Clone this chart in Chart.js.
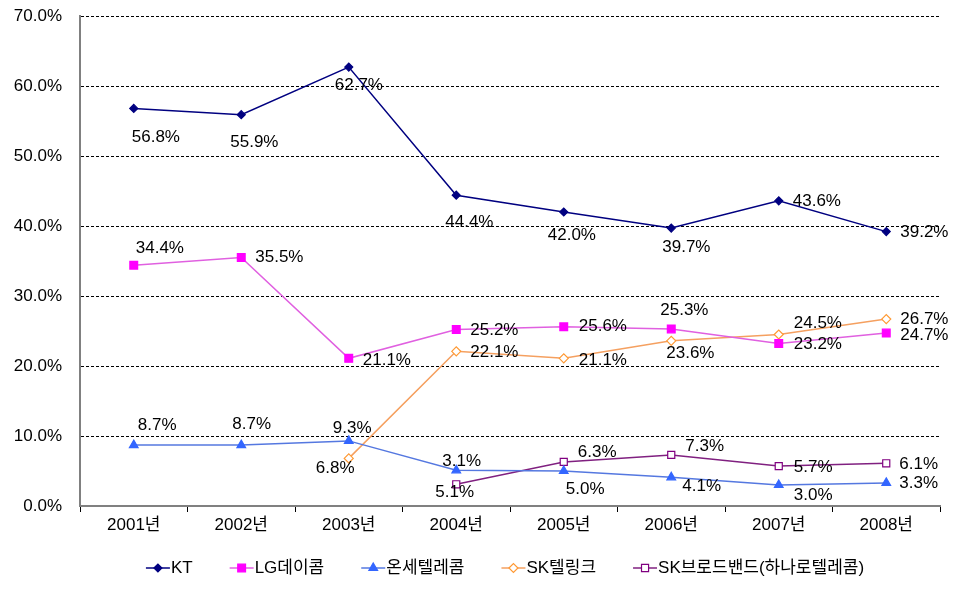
<!DOCTYPE html>
<html>
<head>
<meta charset="utf-8">
<script src="https://cdn.jsdelivr.net/npm/chart.js@4"></script>
<style>
  body { margin: 0; background: #fff; }
  #wrap { width: 969px; height: 592px; }
</style>
</head>
<body>
<div id="wrap"><canvas id="share-chart"></canvas></div>
<script>
// Data
const years = ['2001년', '2002년', '2003년', '2004년', '2005년', '2006년', '2007년', '2008년'];
const seriesNames = ['KT', 'LG데이콤', '온세텔레콤', 'SK텔링크', 'SK브로드밴드(하나로텔레콤)'];
const ktShare = [56.8, 55.9, 62.7, 44.4, 42.0, 39.7, 43.6, 39.2];
const lgShare = [34.4, 35.5, 21.1, 25.2, 25.6, 25.3, 23.2, 24.7];
const onseShare = [8.7, 8.7, 9.3, 5.1, 5.0, 4.1, 3.0, 3.3];
const sktShare = [null, null, 6.8, 22.1, 21.1, 23.6, 24.5, 26.7];
const skbShare = [null, null, null, 3.1, 6.3, 7.3, 5.7, 6.1];
const yMin = 0, yMax = 70, yStep = 10;

// label placement relative to each point: [dx to left edge, dy to text middle]
const labelOffsets = [
  [[-2, 29], [-11, 28], [-14, 18], [-11, 27], [-16, 23], [-9, 19], [14, 1], [14, 1]],
  [[2, -17], [14, 0], [14, 2], [14, 1], [15, 0], [-11, -19], [15, 1], [14, 2]],
  [[4, -20], [-9, -21], [-16, -13], [-21, 22], [2, 18], [11, 9], [15, 10], [13, 0]],
  [null, null, [-33, 10], [14, 1], [15, 2], [-5, 13], [15, -11], [14, 0]],
  [null, null, null, [-14, -23], [14, -10], [14, -9], [15, 1], [13, 1]]
];

const FONT = '"Liberation Sans", "Noto Sans CJK KR", sans-serif';

const styles = [
  { line: '#000080', fill: '#000080', stroke: '#000080', shape: 'rectRot', r: 4 },
  { line: '#e060e0', fill: '#ff00ff', stroke: '#ff00ff', shape: 'rect', r: 5.5 },
  { line: '#5578e0', fill: '#3366ff', stroke: '#3366ff', shape: 'triangle', r: 5 },
  { line: '#f5a060', fill: '#ffffff', stroke: '#ff9933', shape: 'rectRot', r: 4.5 },
  { line: '#802080', fill: '#ffffff', stroke: '#800080', shape: 'rect', r: 5 }
];
const values = [ktShare, lgShare, onseShare, sktShare, skbShare];

const datasets = values.map((vals, i) => ({
  label: seriesNames[i],
  data: vals,
  borderColor: styles[i].line,
  borderWidth: 1.5,
  pointStyle: styles[i].shape,
  pointRadius: styles[i].r,
  pointBackgroundColor: styles[i].fill,
  pointBorderColor: styles[i].stroke,
  pointBorderWidth: 1.2,
  tension: 0,
  spanGaps: false
}));

// value labels
const valueLabels = {
  id: 'valueLabels',
  afterDatasetsDraw(chart) {
    const ctx = chart.ctx;
    ctx.save();
    ctx.font = '17px ' + FONT;
    ctx.fillStyle = '#000';
    ctx.textAlign = 'left';
    ctx.textBaseline = 'middle';
    chart.data.datasets.forEach((ds, i) => {
      const meta = chart.getDatasetMeta(i);
      ds.data.forEach((v, j) => {
        if (v === null) return;
        const off = labelOffsets[i][j] || [12, 0];
        const el = meta.data[j];
        ctx.fillText(v.toFixed(1) + '%', el.x + off[0], el.y + off[1]);
      });
    });
    ctx.restore();
  }
};

function drawMarker(ctx, s, x, y) {
  ctx.beginPath();
  const r = s.r;
  if (s.shape === 'rectRot') {
    ctx.moveTo(x - r, y); ctx.lineTo(x, y - r); ctx.lineTo(x + r, y); ctx.lineTo(x, y + r);
  } else if (s.shape === 'rect') {
    const h = r * Math.SQRT1_2;
    ctx.rect(x - h, y - h, 2 * h, 2 * h);
  } else {
    ctx.moveTo(x, y - r); ctx.lineTo(x + r * 0.87, y + r * 0.5); ctx.lineTo(x - r * 0.87, y + r * 0.5);
  }
  ctx.closePath();
  ctx.fillStyle = s.fill; ctx.fill();
  ctx.strokeStyle = s.stroke; ctx.lineWidth = 1.2; ctx.stroke();
}

// legend row under the axis
const bottomLegend = {
  id: 'bottomLegend',
  afterDraw(chart) {
    const ctx = chart.ctx;
    ctx.save();
    ctx.font = '17px ' + FONT;
    const lineLen = 24, gap = 37, y = 568;
    const widths = seriesNames.map(n => ctx.measureText(n).width);
    const total = widths.reduce((a, w) => a + lineLen + 1 + w, 0) + gap * (seriesNames.length - 1);
    let x = 505 - total / 2;
    seriesNames.forEach((n, i) => {
      const s = styles[i];
      ctx.strokeStyle = s.line; ctx.lineWidth = 1.5;
      ctx.beginPath(); ctx.moveTo(x, y); ctx.lineTo(x + lineLen, y); ctx.stroke();
      drawMarker(ctx, s, x + lineLen / 2, y);
      ctx.fillStyle = '#000';
      ctx.textAlign = 'left'; ctx.textBaseline = 'middle';
      ctx.fillText(n, x + lineLen + 1, y);
      x += lineLen + 1 + widths[i] + gap;
    });
    ctx.restore();
  }
};

const ctx = document.getElementById('share-chart').getContext('2d');
const shareChart = new Chart(ctx, {
  type: 'line',
  data: { labels: years, datasets: datasets },
  plugins: [valueLabels, bottomLegend],
  options: {
    responsive: true,
    maintainAspectRatio: false,
    animation: false,
    layout: { padding: { top: 16, right: 29, left: 0, bottom: 0 } },
    plugins: { legend: { display: false }, tooltip: { enabled: false } },
    scales: {
      x: {
        offset: true,
        grid: { offset: true, drawOnChartArea: false, drawTicks: true, tickLength: 6, tickColor: '#000', tickWidth: 1 },
        border: { color: '#808080', width: 2 },
        ticks: { color: '#000', font: { family: FONT, size: 17 }, padding: 3, maxRotation: 0 },
        afterFit: s => { s.height = 86; s.paddingLeft = 0; s.paddingRight = 0; }
      },
      y: {
        min: yMin, max: yMax,
        ticks: {
          stepSize: yStep, color: '#000', padding: 18,
          font: { family: FONT, size: 17 },
          callback: v => v.toFixed(1) + '%'
        },
        grid: {
          drawTicks: false, tickLength: 0, lineWidth: 1,
          color: c => (c.tick && c.tick.value === 0) ? 'rgba(0,0,0,0)' : '#000'
        },
        border: { color: '#808080', width: 2, dash: [3, 2] },
        afterFit: s => { s.width = 80; s.paddingTop = 0; s.paddingBottom = 0; }
      }
    }
  }
});
</script>
</body>
</html>
